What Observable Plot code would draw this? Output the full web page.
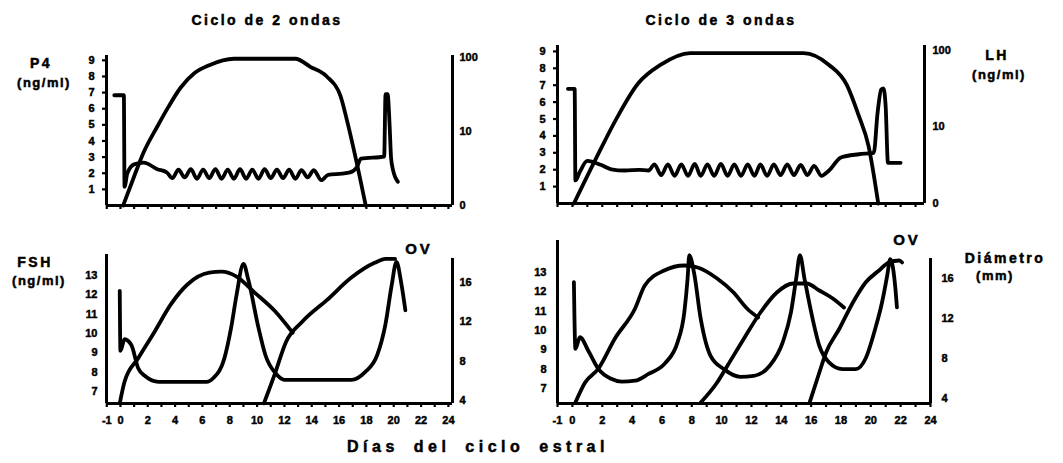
<!DOCTYPE html>
<html><head><meta charset="utf-8">
<script src="https://cdn.jsdelivr.net/npm/d3@7"></script>
<script src="https://cdn.jsdelivr.net/npm/@observablehq/plot@0.6"></script>
<style>
body{margin:0;background:#fff}
#root{position:relative;width:1063px;height:463px;overflow:hidden;background:#fff;font-family:"Liberation Sans",Arial,sans-serif;font-weight:bold;color:#000}
#root svg{position:absolute;left:0;top:0}
#root svg text{stroke:#000;stroke-width:0.45px}
.lbl{position:absolute;white-space:nowrap;line-height:1;transform:translate(-50%,-50%);letter-spacing:2.5px;font-size:14px;-webkit-text-stroke:0.5px #000}
</style></head><body><div id="root"></div>
<script>
// ---------- tick labels ----------
const dayTicks = [-1,0,1,2,3,4,5,6,7,8,9,10,11,12,13,14,15,16,17,18,19,20,21,22,23,24];
const dayTickLabels = [-1,0,2,4,6,8,10,12,14,16,18,20,22,24];
const p4Ticks = [1,2,3,4,5,6,7,8,9];
const lhTicks = [1,10,100];
const lhTickLabels = ["0","10","100"];
const fshTicks = [7,8,9,10,11,12,13];
const diamTicks = [4,8,12,16];

// ---------- Ciclo de 2 ondas ----------
const tlDaysP4 = [0.2,1.0,1.7,2.7,3.5,4.4,5.4,6.5,8.3,12.8,13.9,15.1,16.1,16.6,17.2,17.95];
const tlP4 =     [0,1.8,3.3,4.9,6.1,7.3,8.2,8.7,9.1,9.1,8.6,8.0,6.8,5.2,3.0,0];
const tlDaysLH = [-0.45,0.25,0.3,0.5,1.0,1.7,2.7,3.4,
  3.8,4.25,4.7,5.15,5.6,6.05,6.5,6.95,7.4,7.85,8.3,8.75,9.2,9.65,10.1,10.55,11.0,11.45,11.9,12.35,12.8,13.25,13.7,14.15,
  14.7,15.2,16.2,16.8,17.3,17.6,19.3,19.4,19.55,19.7,19.8,19.95,20.3];
const tlLH = [31,31,1.8,2.7,3.6,3.8,3.1,2.8,
  2.35,3.05,2.4,3.1,2.3,3.05,2.35,3.1,2.3,3.05,2.3,3.1,2.3,3.05,2.3,3.1,2.35,3.05,2.35,3.05,2.3,3.0,2.4,3.0,
  2.2,2.6,2.7,2.8,3.3,4.3,4.6,32,32,12,4.5,3.0,2.1];

const blDaysFSH = [-0.05,0.0,0.3,0.8,1.3,1.8,2.8,6.3,6.8,7.6,8.1,8.5,9.0,9.35,10.1,10.6,11.4,12.0,16.9,17.9,18.8,19.4,19.85,20.2,20.55,20.85];
const blFSH =     [12.2,9.1,9.7,9.4,8.2,7.8,7.5,7.5,7.7,8.7,10.3,12.0,13.6,12.8,10.3,8.9,7.9,7.6,7.6,8.0,8.9,10.5,12.5,13.7,12.6,11.2];
const blDaysF1 = [-0.05,0.3,1.3,2.5,3.7,4.9,6.5,7.4,8.5,9.8,11.3,12.6];
const blF1 =     [3.7,5.9,8.3,11.0,13.8,15.8,17.0,17.1,16.6,15.0,13.1,10.9];
const blDaysF2 = [10.5,11.3,12.1,13.3,15.1,16.9,18.6,19.4,20.1];
const blF2 =     [3.7,6.7,9.9,12.0,14.2,16.5,18.0,18.4,18.4];

// ---------- Ciclo de 3 ondas ----------
const trDaysP4 = [0.1,1.6,3.0,4.4,5.9,7.9,15.5,17.2,18.4,19.15,19.85,20.5];
const trP4 =     [0,2.7,5.1,7.1,8.2,8.9,8.9,8.2,7.0,5.3,3.4,0];
const trDaysLH = [-0.3,0.15,0.2,0.5,1.0,1.9,2.6,3.5,4.5,5.1,
  5.5,5.95,6.4,6.85,7.3,7.75,8.2,8.6,9.05,9.5,9.95,10.4,10.85,11.3,11.75,12.2,12.6,13.05,13.5,13.95,14.4,14.85,15.3,15.75,16.2,
  16.7,17.2,18.0,19.2,20.2,20.45,20.7,20.85,21.0,21.15,22.0];
const trLH = [31.5,31.5,2.0,2.6,3.6,3.2,2.8,2.7,2.75,2.7,
  3.25,2.35,3.25,2.3,3.25,2.3,3.3,2.3,3.25,2.3,3.3,2.3,3.25,2.3,3.25,2.3,3.25,2.3,3.25,2.35,3.25,2.35,3.2,2.35,3.1,
  2.3,2.7,4.0,4.4,4.6,15,31,32,18,3.4,3.4];

const brDaysFSH = [0.1,0.2,0.5,1.1,1.75,2.6,3.3,4.2,5.1,6.2,7.05,7.5,7.72,7.83,8.15,8.6,9.25,10.15,11.25,12.15,13.25,14.1,14.65,15.0,15.25,15.55,16.1,16.55,17.2,18.1,19.0,19.65,20.3,20.75,21.1,21.3,21.65,21.75];
const brFSH =     [12.5,9.05,9.65,8.9,8.0,7.5,7.35,7.4,7.75,8.3,9.4,10.95,12.7,13.9,13.0,10.6,8.7,8.0,7.6,7.65,8.2,9.4,10.95,12.7,13.9,12.7,10.6,9.2,8.35,8.0,8.0,8.55,10.1,11.45,12.85,13.7,12.15,11.2];
const brDaysF1 = [0.2,0.85,1.75,2.85,4.2,4.85,6.15,7.5,8.4,9.7,10.8,11.7,12.45];
const brF1 =     [3.6,5.6,7.0,10.0,13.0,15.3,16.8,17.3,17.1,16.0,14.6,13.0,12.1];
const brDaysF2 = [8.6,9.7,10.4,11.5,12.6,13.7,14.8,15.7,16.55,17.45,18.2];
const brF2 =     [3.6,5.6,7.3,10.0,12.6,14.6,15.5,15.5,14.8,14.0,13.1];
const brDaysF3 = [15.9,16.55,17.0,17.9,18.8,19.65,20.55,21.2,21.9,22.1];
const brF3 =     [3.6,6.6,8.6,11.0,13.6,15.6,16.8,17.6,17.8,17.6];

// ---------- drawing ----------
const root = document.getElementById("root");
const W = 1063, H = 463;
const st = {background:"transparent", overflow:"visible", fontFamily:'"Liberation Sans", Arial, sans-serif', fontWeight:"bold", fontSize:"11px", color:"#000"};
const box = (l, r, t, b) => ({width: W, height: H, marginLeft: l, marginRight: W - r, marginTop: t, marginBottom: H - b});
const ln = {curve: "monotone-x", stroke: "#000", strokeWidth: 3.8, strokeLinejoin: "round", strokeLinecap: "round"};
const aw = 3;
const fmtDay = d => d < 0 ? "-1" : String(d);
const lhFmt = d => lhTickLabels[lhTicks.indexOf(d)];
const add = svg => root.appendChild(svg);
const inDom = (arr, dom) => arr.filter(d => d >= dom[0] && d <= dom[1]);

// Top-left
const xTL = [-1.02, 24.3];
add(Plot.plot({...box(106, 452, 55, 205), style: st,
  x: {domain: xTL}, y: {domain: [0, 9.3]},
  marks: [
    Plot.axisX(inDom(dayTicks, xTL), {tickSize: 4, strokeWidth: 2.2, tickFormat: () => ""}),
    Plot.axisY(p4Ticks, {tickSize: 4, tickPadding: 8, strokeWidth: 2.2, label: null}),
    Plot.ruleX([xTL[0]], {strokeWidth: aw}),
    Plot.ruleY([0], {strokeWidth: aw}),
    Plot.line(tlP4, {x: tlDaysP4, y: tlP4, ...ln})
  ]}));
add(Plot.plot({...box(106, 452, 55, 205), style: st,
  x: {domain: xTL, axis: null}, y: {type: "log", domain: [1, 107]},
  marks: [
    Plot.axisY(lhTicks, {anchor: "right", tickSize: 0, tickPadding: 7, tickFormat: lhFmt, label: null}),
    Plot.ruleX([xTL[1]], {y1: 1, y2: 107, strokeWidth: aw}),
    Plot.line(tlLH, {x: tlDaysLH, y: tlLH, ...ln})
  ]}));

// Bottom-left
add(Plot.plot({...box(106, 452, 254, 403), style: st,
  x: {domain: xTL}, y: {domain: [6.38, 14.08]},
  marks: [
    Plot.axisX(inDom(dayTicks, xTL), {tickSize: 4, strokeWidth: 2.2, tickFormat: () => ""}),
    Plot.axisX(dayTickLabels, {tickSize: 0, tickPadding: 13, tickFormat: fmtDay}),
    Plot.axisY(fshTicks, {tickSize: 0, tickPadding: 9, label: null}),
    Plot.ruleX([xTL[0]], {strokeWidth: aw}),
    Plot.ruleY([6.38], {strokeWidth: aw}),
    Plot.line(blFSH, {x: blDaysFSH, y: blFSH, ...ln})
  ]}));
add(Plot.plot({...box(106, 452, 254, 403), style: st,
  x: {domain: xTL, axis: null}, y: {domain: [3.69, 18.85]},
  marks: [
    Plot.axisY(diamTicks, {anchor: "right", tickSize: 0, tickPadding: 7, label: null}),
    Plot.ruleX([xTL[1]], {y1: 3.69, y2: 18.45, strokeWidth: aw}),
    Plot.line(blF1, {x: blDaysF1, y: blF1, ...ln}),
    Plot.line(blF2, {x: blDaysF2, y: blF2, ...ln})
  ]}));

// Top-right
const xTR = [-1, 23.6];
add(Plot.plot({...box(557, 924, 45, 203), style: st,
  x: {domain: xTR}, y: {domain: [0, 9.35]},
  marks: [
    Plot.axisX(inDom(dayTicks, xTR), {tickSize: 4, strokeWidth: 2.2, tickFormat: () => ""}),
    Plot.axisY(p4Ticks, {tickSize: 4, tickPadding: 8, strokeWidth: 2.2, label: null}),
    Plot.ruleX([xTR[0]], {strokeWidth: aw}),
    Plot.ruleY([0], {strokeWidth: aw}),
    Plot.line(trP4, {x: trDaysP4, y: trP4, ...ln})
  ]}));
add(Plot.plot({...box(557, 924, 45, 203), style: st,
  x: {domain: xTR, axis: null}, y: {type: "log", domain: [1, 116]},
  marks: [
    Plot.axisY(lhTicks, {anchor: "right", tickSize: 0, tickPadding: 8, tickFormat: lhFmt, label: null}),
    Plot.ruleX([xTR[1]], {y1: 1, y2: 116, strokeWidth: aw}),
    Plot.line(trLH, {x: trDaysLH, y: trLH, ...ln})
  ]}));

// Bottom-right
const xBR = [-1, 24];
add(Plot.plot({...box(557, 930, 240, 403), style: st,
  x: {domain: xBR}, y: {domain: [6.22, 14.66]},
  marks: [
    Plot.axisX(inDom(dayTicks, xBR), {tickSize: 4, strokeWidth: 2.2, tickFormat: () => ""}),
    Plot.axisX(dayTickLabels, {tickSize: 0, tickPadding: 13, tickFormat: fmtDay}),
    Plot.axisY(fshTicks, {tickSize: 0, tickPadding: 11, label: null}),
    Plot.ruleX([xBR[0]], {strokeWidth: aw}),
    Plot.ruleY([6.22], {strokeWidth: aw}),
    Plot.line(brFSH, {x: brDaysFSH, y: brFSH, ...ln})
  ]}));
add(Plot.plot({...box(557, 930, 240, 403), style: st,
  x: {domain: xBR, axis: null}, y: {domain: [3.5, 19.8]},
  marks: [
    Plot.axisY(diamTicks, {anchor: "right", tickSize: 0, tickPadding: 11, label: null}),
    Plot.ruleX([xBR[1]], {y1: 3.5, y2: 18.0, strokeWidth: aw}),
    Plot.line(brF1, {x: brDaysF1, y: brF1, ...ln}),
    Plot.line(brF2, {x: brDaysF2, y: brF2, ...ln}),
    Plot.line(brF3, {x: brDaysF3, y: brF3, ...ln})
  ]}));

// ---------- text ----------
function label(text, x, y, css) {
  const d = document.createElement("div");
  d.className = "lbl";
  d.textContent = text;
  d.style.left = x + "px";
  d.style.top = y + "px";
  if (css) Object.assign(d.style, css);
  root.appendChild(d);
}
label("Ciclo de 2 ondas", 267, 20);
label("Ciclo de 3 ondas", 721, 20);
label("P4", 41, 63);
label("(ng/ml)", 44, 82, {fontSize: "13px", letterSpacing: "1.5px"});
label("LH", 997, 55);
label("(ng/ml)", 999, 74, {fontSize: "13px", letterSpacing: "1.5px"});
label("FSH", 35, 262);
label("(ng/ml)", 39, 280, {fontSize: "13px", letterSpacing: "1.5px"});
label("OV", 419, 248, {fontSize: "15px", letterSpacing: "3px"});
label("OV", 907, 239, {fontSize: "15px", letterSpacing: "3px"});
label("Diámetro", 1005, 258);
label("(mm)", 995, 275, {fontSize: "13px", letterSpacing: "1.5px"});
label("Días del ciclo estral", 478, 447, {fontSize: "16px", letterSpacing: "4.5px", wordSpacing: "6px"});
</script>
</body></html>
